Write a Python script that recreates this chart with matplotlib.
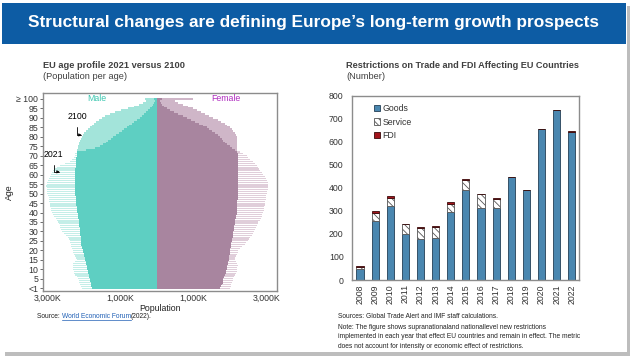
import numpy as np
import matplotlib
matplotlib.use('Agg')
import matplotlib.pyplot as plt
from matplotlib.patches import Rectangle
from matplotlib.lines import Line2D

plt.rcParams['font.family'] = ['Liberation Sans', 'DejaVu Sans']
plt.rcParams['hatch.linewidth'] = 0.6

# ---------------- data: EU age pyramid (thousands) ----------------
ages = np.arange(0, 101)
age_tick_labels = ['<1'] + [str(a) for a in range(5, 100, 5)] + ['\u2265 100']

male_2021 = np.array([
    2060, 2080, 2110, 2130, 2150, 2160, 2200, 2250, 2270, 2280,
    2290, 2300, 2300, 2290, 2240, 2200, 2220, 2250, 2280, 2300,
    2310, 2330, 2350, 2360, 2370, 2380, 2410, 2430, 2500, 2560,
    2610, 2630, 2650, 2670, 2690, 2700, 2740, 2780, 2820, 2860,
    2880, 2900, 2910, 2920, 2930, 2940, 2950, 2960, 2970, 2980,
    3000, 3010, 3020, 3020, 3030, 3020, 3010, 2990, 2970, 2940,
    2910, 2880, 2850, 2820, 2750, 2660, 2520, 2380, 2320, 2280,
    2250, 2240, 2200, 1950, 1700, 1560, 1470, 1400, 1330, 1270,
    1200, 1120, 1040, 970, 900, 820, 760, 690, 620, 540,
    470, 410, 350, 290, 240, 190, 150, 110, 80, 60, 70])

male_2100 = np.array([
    1790, 1800, 1810, 1820, 1830, 1840, 1850, 1870, 1880, 1900,
    1910, 1920, 1930, 1940, 1950, 1960, 1980, 1990, 2010, 2020,
    2040, 2050, 2060, 2070, 2080, 2080, 2090, 2090, 2100, 2100,
    2110, 2120, 2120, 2130, 2140, 2150, 2150, 2160, 2170, 2170,
    2180, 2190, 2190, 2200, 2210, 2220, 2220, 2230, 2230, 2240,
    2240, 2240, 2250, 2250, 2250, 2250, 2250, 2250, 2250, 2250,
    2250, 2240, 2240, 2240, 2230, 2230, 2220, 2220, 2210, 2210,
    2200, 2200, 2190, 2180, 2170, 2160, 2150, 2130, 2110, 2090,
    2060, 2030, 1990, 1950, 1900, 1840, 1790, 1730, 1670, 1600,
    1520, 1420, 1300, 1150, 980, 800, 640, 500, 380, 300, 330])

female_2021 = np.array([
    2000, 2020, 2040, 2060, 2080, 2090, 2120, 2150, 2170, 2180,
    2190, 2200, 2210, 2200, 2160, 2140, 2150, 2170, 2190, 2210,
    2230, 2280, 2340, 2400, 2450, 2500, 2530, 2560, 2600, 2630,
    2660, 2680, 2700, 2730, 2760, 2780, 2810, 2840, 2870, 2890,
    2910, 2920, 2930, 2940, 2950, 2960, 2970, 2980, 2990, 3000,
    3010, 3020, 3030, 3040, 3050, 3050, 3040, 3020, 2990, 2950,
    2910, 2870, 2830, 2800, 2770, 2730, 2680, 2620, 2560, 2500,
    2460, 2360, 2270, 2150, 2060, 2000, 1920, 1860, 1810, 1770,
    1730, 1660, 1580, 1500, 1430, 1360, 1250, 1140, 1030, 920,
    810, 700, 580, 460, 360, 270, 200, 140, 100, 70, 150])

female_2100 = np.array([
    1740, 1760, 1780, 1800, 1810, 1820, 1840, 1860, 1880, 1890,
    1910, 1920, 1930, 1940, 1950, 1960, 1970, 1980, 1990, 2000,
    2000, 2010, 2020, 2030, 2040, 2050, 2060, 2070, 2080, 2085,
    2090, 2100, 2110, 2120, 2130, 2140, 2150, 2160, 2170, 2180,
    2185, 2190, 2190, 2195, 2200, 2200, 2205, 2210, 2210, 2215,
    2215, 2220, 2220, 2220, 2220, 2220, 2220, 2220, 2220, 2220,
    2220, 2220, 2220, 2220, 2220, 2220, 2220, 2220, 2215, 2215,
    2210, 2210, 2205, 2200, 2200, 2200, 2195, 2190, 2185, 2180,
    2180, 2160, 2130, 2090, 2050, 2000, 1930, 1850, 1760, 1660,
    1540, 1430, 1320, 1210, 1100, 990, 850, 700, 580, 500, 980])

pop_ticks = [-3000, -1000, 1000, 3000]
pop_tick_labels = ['3,000K', '1,000K', '1,000K', '3,000K']

# ---------------- data: trade restrictions ----------------
years = ['2008', '2009', '2010', '2011', '2012', '2013', '2014', '2015',
         '2016', '2017', '2018', '2019', '2020', '2021', '2022']
goods = np.array([47, 257, 321, 199, 177, 184, 294, 390, 311, 311, 447, 391, 655, 738, 641])
service = np.array([11, 32, 33, 44, 47, 45, 36, 44, 61, 41, 0, 0, 0, 0, 0])
fdi = np.array([2, 10, 12, 2, 8, 5, 10, 3, 2, 2, 1, 0, 0, 0, 4])

# ---------------- figure ----------------
W, H = 636, 363
fig = plt.figure(figsize=(W / 100, H / 100), dpi=100)
fig.patch.set_facecolor('white')

def fx(px):
    return px / W

def fy(py):
    return 1 - py / H

# slide shadow + white slide (behind axes)
fig.patches.append(Rectangle((fx(5), fy(356)), fx(625), 350 / H, transform=fig.transFigure,
                             facecolor='#BDBDBD', edgecolor='none', zorder=-3))
fig.patches.append(Rectangle((0, fy(352)), fx(627), 352 / H, transform=fig.transFigure,
                             facecolor='white', edgecolor='none', zorder=-2))
# title banner
fig.patches.append(Rectangle((fx(2), fy(44)), fx(624), 41 / H, transform=fig.transFigure,
                             facecolor='#0D5CA4', edgecolor='none', zorder=-1))
fig.text(fx(313), fy(23), 'Structural changes are defining Europe\u2019s long-term growth prospects',
         ha='center', va='center', color='white', fontsize=12.4, fontweight='bold', zorder=2)

# panel titles
tcol = '#404040'
fig.text(fx(43), fy(66), 'EU age profile 2021 versus 2100', ha='left', va='center',
         fontsize=6.7, fontweight='bold', color=tcol)
fig.text(fx(43), fy(76.5), '(Population per age)', ha='left', va='center', fontsize=6.7, color=tcol)
fig.text(fx(346), fy(66), 'Restrictions on Trade and FDI Affecting EU Countries', ha='left',
         va='center', fontsize=6.6, fontweight='bold', color=tcol)
fig.text(fx(346), fy(76.5), '(Number)', ha='left', va='center', fontsize=6.7, color=tcol)

# ---------------- pyramid ----------------
ax1 = fig.add_axes([fx(43), fy(290.7), fx(277 - 43), (290.7 - 93.3) / H])
m_light2100, m_light2021, m_dark = '#A3E4DA', '#C4EEE8', '#5ECFC2'
f_light2100, f_light2021, f_dark = '#CFB6C8', '#E0CEDA', '#A8859F'

ax1.barh(ages, -male_2100, height=1.0, color=m_light2100, linewidth=0)
ax1.barh(ages, -male_2021, height=0.6, color=m_light2021, linewidth=0)
ax1.barh(ages, -np.minimum(male_2021, male_2100), height=1.0, color=m_dark, linewidth=0)
ax1.barh(ages, female_2100, height=1.0, color=f_light2100, linewidth=0)
ax1.barh(ages, female_2021, height=0.6, color=f_light2021, linewidth=0)
ax1.barh(ages, np.minimum(female_2021, female_2100), height=1.0, color=f_dark, linewidth=0)

ax1.set_xlim(-3123, 3288)
ax1.set_ylim(-1.3, 103)
ax1.set_xticks(pop_ticks)
ax1.set_xticklabels(pop_tick_labels)
ax1.set_yticks(np.arange(0, 101, 5))
ax1.set_yticklabels(age_tick_labels)
ax1.tick_params(axis='both', labelsize=6.3, colors='#333333', length=2, width=0.5, pad=1.5)
ax1.tick_params(axis='x', length=0, pad=2)
for s in ax1.spines.values():
    s.set_color('#8C8C8C')
    s.set_linewidth(1.0)
ax1.set_xlabel('Population', fontsize=6.3, labelpad=1, color='#222222')
ax1.set_ylabel('Age', fontsize=6.3, labelpad=2, color='#222222')
ax1.text(-1650, 100, 'Male', color='#3CC7B0', fontsize=6.3, ha='center', va='center')
ax1.text(1900, 100, 'Female', color='#B02CC0', fontsize=6.3, ha='center', va='center')

arrow_kw = dict(arrowstyle='-|>', color='black', lw=0.6, mutation_scale=4,
                connectionstyle='angle,angleA=90,angleB=0,rad=0', shrinkA=2, shrinkB=0)
ax1.annotate('2100', xy=(-2060, 81), xytext=(-2180, 90.5), fontsize=6.3, ha='center',
             va='center', arrowprops=arrow_kw)
ax1.annotate('2021', xy=(-2660, 61.5), xytext=(-2830, 70.5), fontsize=6.3, ha='center',
             va='center', arrowprops=arrow_kw)

# ---------------- stacked bars ----------------
ax2 = fig.add_axes([fx(352), fy(280), fx(579 - 352), 184.3 / H])
x = np.arange(len(years))
bw = 0.47
ax2.bar(x, goods, width=bw, color='#4A87B0', edgecolor='#243F55', linewidth=0.6, label='Goods')
ax2.bar(x, service, width=bw, bottom=goods, color='white', hatch='\\\\\\\\\\',
        edgecolor='#555555', linewidth=0.6, label='Service')
ax2.bar(x, fdi, width=bw, bottom=goods + service, color='#A3141C', edgecolor='#3A0A0A',
        linewidth=0.6, label='FDI')
ax2.set_xlim(-0.53, 14.48)
ax2.set_ylim(0, 800)
ax2.set_yticks(np.arange(0, 801, 100))
ax2.set_xticks(x)
ax2.set_xticklabels(years, rotation=90)
ax2.tick_params(axis='y', labelsize=6.3, colors='#333333', length=0, pad=6)
ax2.tick_params(axis='x', labelsize=6.3, colors='#333333', length=0, pad=3)
for s in ax2.spines.values():
    s.set_color('#8C8C8C')
    s.set_linewidth(1.0)
leg = ax2.legend(loc='upper left', bbox_to_anchor=(0.08, 0.975), frameon=False, fontsize=6.3,
                 handlelength=0.7, handleheight=0.7, handletextpad=0.3, labelspacing=0.55,
                 borderaxespad=0)
for t in leg.get_texts():
    t.set_color('#333333')

# ---------------- sources / notes ----------------
src_fs = 4.8
fig.canvas.draw()
r = fig.canvas.get_renderer()
t1 = fig.text(fx(37), fy(316), 'Source: ', fontsize=src_fs, ha='left', va='center',
              color='#222222')
bb = t1.get_window_extent(renderer=r)
t2 = fig.text(bb.x1 / W, fy(316), 'World Economic Forum', fontsize=src_fs, ha='left',
              va='center', color='#1F5FB5')
bb2 = t2.get_window_extent(renderer=r)
fig.lines.append(Line2D([bb2.x0 / W, bb2.x1 / W], [bb2.y0 / H, bb2.y0 / H],
                        transform=fig.transFigure, color='#1F5FB5', lw=0.5))
fig.text(bb2.x1 / W, fy(316), '(2022).', fontsize=src_fs, ha='left', va='center',
         color='#222222')

notes = ['Sources: Global Trade Alert and IMF staff calculations.',
         'Note: The figure shows supranationaland nationallevel new restrictions',
         'implemented in each year that effect EU countries and remain in effect. The metric',
         'does not account for intensity or economic effect of restrictions.']
note_y = [317, 327.7, 337, 346.3]
for line, yy in zip(notes, note_y):
    fig.text(fx(338), fy(yy), line, fontsize=src_fs, ha='left', va='center', color='#222222')

fig.savefig('out.png', dpi=100, facecolor='white')
